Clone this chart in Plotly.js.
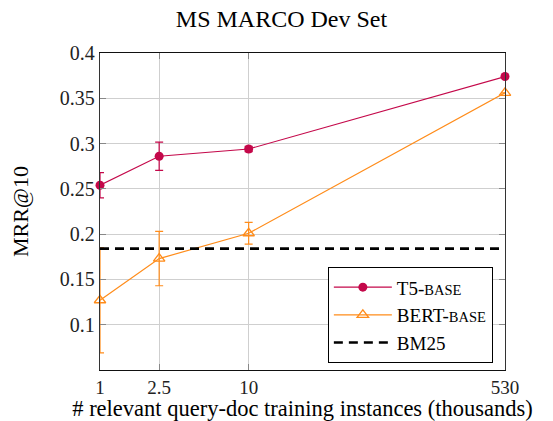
<!DOCTYPE html>
<html>
<head>
<meta charset="utf-8">
<script src="https://cdn.plot.ly/plotly-3.0.1.min.js"></script>
<style>html,body{margin:0;padding:0;background:#fff;}#chart{width:553px;height:421px;}</style>
</head>
<body>
<div id="chart"></div>
<script>
// Data
const xInstances = [1, 2.5, 10, 530];
const t5Mrr = [0.254, 0.286, 0.294, 0.374];
const t5Err = [0.014, 0.0155, 0.003, 0];
const bertMrr = [0.127, 0.173, 0.201, 0.356];
const bertErr = [0.058, 0.030, 0.012, 0];
const bm25Mrr = 0.184;
const xTickVals = [1, 2.5, 10, 530];
const xTickText = ['1', '2.5', '10', '530'];
const yTickVals = [0.1, 0.15, 0.2, 0.25, 0.3, 0.35, 0.4];
const yTickText = ['0.1', '0.15', '0.2', '0.25', '0.3', '0.35', '0.4'];

const serif = '"Liberation Serif", "Times New Roman", serif';
const t5Color = '#c4084a';
const bertColor = '#ff8c1a';

const traces = [
  {
    x: xInstances, y: t5Mrr, type: 'scatter', mode: 'lines+markers',
    name: "T5-<span style='font-size:14.5px'>BASE</span>",
    legendgroup: 'a',
    line: {color: t5Color, width: 1.2},
    marker: {color: t5Color, size: 9, symbol: 'circle'},
    error_y: {type: 'data', array: t5Err, visible: true, color: t5Color, thickness: 1.2, width: 4},
    cliponaxis: false
  },
  {
    x: xInstances, y: bertMrr, type: 'scatter', mode: 'lines+markers',
    name: "BERT-<span style='font-size:14.5px'>BASE</span>",
    legendgroup: 'b',
    line: {color: bertColor, width: 1.2},
    marker: {color: bertColor, size: 10, symbol: 'triangle-up-open', line: {color: bertColor, width: 1.3}},
    error_y: {type: 'data', array: bertErr, visible: true, color: bertColor, thickness: 1.2, width: 4},
    cliponaxis: false
  },
  {
    x: [xInstances[0], xInstances[xInstances.length - 1]], y: [bm25Mrr, bm25Mrr],
    type: 'scatter', mode: 'lines', name: 'BM25',
    legendgroup: 'c',
    line: {color: '#000000', width: 2.6, dash: '9px,6px'}
  }
];

const layout = {
  width: 553, height: 421,
  margin: {l: 100, r: 48, t: 53, b: 51},
  paper_bgcolor: '#ffffff', plot_bgcolor: '#ffffff',
  font: {family: serif, color: '#000000'},
  title: {
    text: 'MS MARCO Dev Set',
    font: {family: serif, size: 24, color: '#000'},
    x: 0.509, xref: 'container', xanchor: 'center',
    y: 0.955, yref: 'container', yanchor: 'middle'
  },
  xaxis: {
    type: 'log',
    range: [Math.log10(1), Math.log10(530)],
    tickvals: xTickVals, ticktext: xTickText,
    ticks: 'inside', ticklen: 6, tickcolor: '#888', tickwidth: 1,
    showgrid: true, gridcolor: '#cfcfcf', gridwidth: 1,
    showline: true, linecolor: '#111', linewidth: 1.2, mirror: 'ticks',
    zeroline: false,
    tickfont: {family: serif, size: 19, color: '#222'},
    title: {text: '# relevant query-doc training instances (thousands)', font: {family: serif, size: 22.5, color: '#000'}, standoff: 3}
  },
  yaxis: {
    range: [0.05, 0.4],
    tickvals: yTickVals, ticktext: yTickText,
    ticks: 'inside', ticklen: 6, tickcolor: '#888', tickwidth: 1,
    showgrid: true, gridcolor: '#cfcfcf', gridwidth: 1,
    showline: true, linecolor: '#333', linewidth: 1.2, mirror: 'ticks',
    zeroline: false,
    tickfont: {family: serif, size: 20, color: '#222'},
    title: {text: 'MRR@10', font: {family: serif, size: 22, color: '#000'}, standoff: 25}
  },
  showlegend: true,
  legend: {
    x: 0.97, xanchor: 'right', y: 0.324, yanchor: 'top',
    bgcolor: '#ffffff', bordercolor: '#000', borderwidth: 1,
    font: {family: serif, size: 19, color: '#000'},
    itemwidth: 58,
    traceorder: 'grouped', tracegroupgap: 0
  }
};

Plotly.newPlot('chart', traces, layout, {displayModeBar: false, staticPlot: true});
</script>
</body>
</html>
